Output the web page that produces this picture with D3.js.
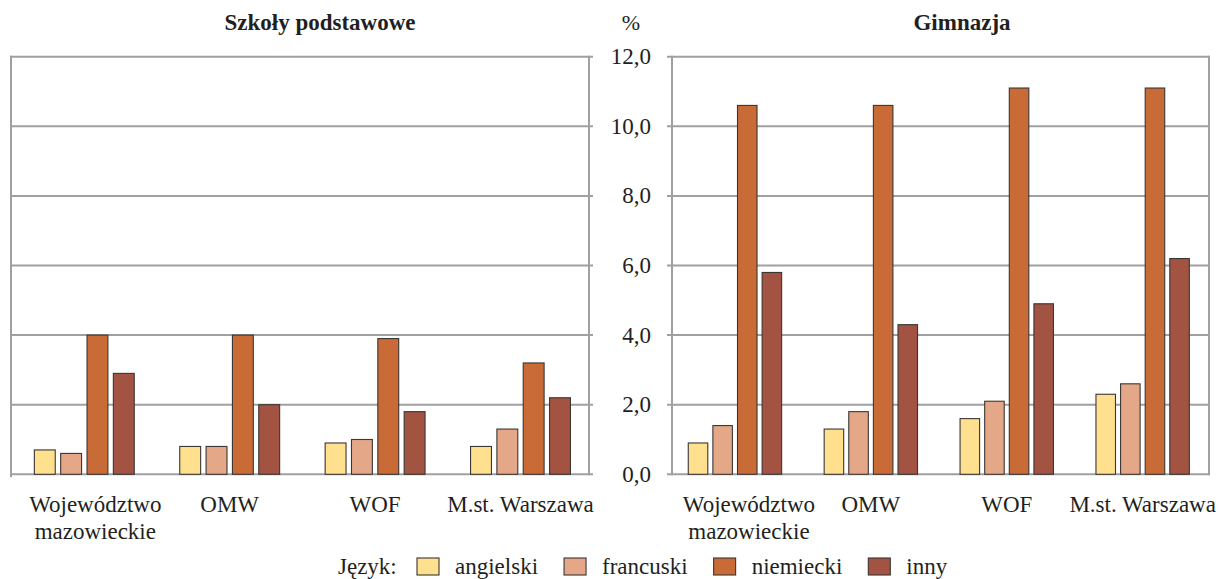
<!DOCTYPE html>
<html>
<head>
<meta charset="utf-8">
<script src="https://cdn.jsdelivr.net/npm/d3@7"></script>
<style>
  html, body { margin: 0; padding: 0; background: #fff; }
  svg { display: block; }
  text { font-family: "Liberation Serif", "Times New Roman", serif; fill: #231f20; }
</style>
</head>
<body>
<svg id="chart" width="1220" height="579"></svg>
<script>
// ---- data ----
const categories = ["Województwo mazowieckie", "OMW", "WOF", "M.st. Warszawa"];
const languages = ["angielski", "francuski", "niemiecki", "inny"];
const languageColors = ["#FFE08F", "#E4A888", "#C86B37", "#A25341"];

// Szkoły podstawowe (%)
const spAngielski = [0.7, 0.8, 0.9, 0.8];
const spFrancuski = [0.6, 0.8, 1.0, 1.3];
const spNiemiecki = [4.0, 4.0, 3.9, 3.2];
const spInny      = [2.9, 2.0, 1.8, 2.2];

// Gimnazja (%)
const gAngielski = [0.9, 1.3, 1.6, 2.3];
const gFrancuski = [1.4, 1.8, 2.1, 2.6];
const gNiemiecki = [10.6, 10.6, 11.1, 11.1];
const gInny      = [5.8, 4.3, 4.9, 6.2];

const yTicks = [0, 2, 4, 6, 8, 10, 12];
const yTickLabels = ["0,0", "2,0", "4,0", "6,0", "8,0", "10,0", "12,0"];

// ---- drawing ----
const svg = d3.select("#chart");
const gridColor = "#a0a0a2";
const plotTop = 56.7, plotBottom = 474.3;
const y = d3.scaleLinear().domain([0, 12]).range([plotBottom, plotTop]);

function labelLines(c) {
  return c === "Województwo mazowieckie" ? c.split(" ") : [c];
}

function drawPanel(opts) {
  const g = svg.append("g");
  const series = [opts.ang, opts.fr, opts.niem, opts.inny];

  g.selectAll("line.grid").data(yTicks).join("line")
    .attr("x1", opts.gridX0).attr("x2", opts.gridX1)
    .attr("y1", d => y(d)).attr("y2", d => y(d))
    .attr("stroke", gridColor).attr("stroke-width", 2);

  g.append("line").attr("x1", opts.leftX).attr("x2", opts.leftX)
    .attr("y1", plotTop - 1).attr("y2", opts.leftBottom)
    .attr("stroke", gridColor).attr("stroke-width", 2);
  g.append("line").attr("x1", opts.rightX).attr("x2", opts.rightX)
    .attr("y1", plotTop - 1).attr("y2", plotBottom + 1)
    .attr("stroke", gridColor).attr("stroke-width", 2);

  const x0 = d3.scaleBand().domain(categories).range(opts.bandRange)
    .paddingInner(0.313).paddingOuter(0.1565);
  const x1 = d3.scaleBand().domain(languages).range([0, x0.bandwidth()])
    .paddingInner(0.207).paddingOuter(0);

  const rows = [];
  categories.forEach((c, ci) => {
    languages.forEach((l, li) => rows.push({ c, l, li, v: series[li][ci] }));
  });

  g.selectAll("rect.bar").data(rows).join("rect")
    .attr("x", d => x0(d.c) + x1(d.l))
    .attr("y", d => y(d.v))
    .attr("width", x1.bandwidth())
    .attr("height", d => y(0) - y(d.v))
    .attr("fill", d => languageColors[d.li])
    .attr("stroke", "#3a3634").attr("stroke-width", 1.1);

  categories.forEach((c) => {
    const lines = labelLines(c);
    const cx = x0(c) + x0.bandwidth() / 2 + (lines.length > 1 ? opts.wrapShift : 0);
    const t = g.append("text").attr("text-anchor", "middle").attr("font-size", 23);
    lines.forEach((ln, i) => {
      t.append("tspan").attr("x", cx).attr("y", 512 + i * 26.5).text(ln);
    });
  });

  g.append("text").attr("x", opts.titleX).attr("y", 30)
    .attr("text-anchor", "middle").attr("font-size", 23)
    .attr("font-weight", "bold").text(opts.title);
}

drawPanel({
  title: "Szkoły podstawowe", titleX: 320,
  ang: spAngielski, fr: spFrancuski, niem: spNiemiecki, inny: spInny,
  gridX0: 10, gridX1: 593, leftX: 11, leftBottom: plotBottom + 3, rightX: 589,
  bandRange: [11.6, 593.2], wrapShift: 11
});

drawPanel({
  title: "Gimnazja", titleX: 962,
  ang: gAngielski, fr: gFrancuski, niem: gNiemiecki, inny: gInny,
  gridX0: 667, gridX1: 1210, leftX: 672, leftBottom: plotBottom + 1, rightX: 1209,
  bandRange: [667, 1210.6], wrapShift: 14
});

const axis = d3.axisLeft(y).tickValues(yTicks)
  .tickFormat((d, i) => yTickLabels[i]).tickSize(0).tickPadding(16);
const ag = svg.append("g").attr("transform", "translate(667,0)").call(axis);
ag.select(".domain").remove();
ag.selectAll("text").attr("font-size", 23)
  .attr("font-family", "Liberation Serif, Times New Roman, serif")
  .attr("fill", "#231f20").attr("dy", "0.3em");

svg.append("text").attr("x", 631).attr("y", 30).attr("text-anchor", "middle")
  .attr("font-size", 22).text("%");

const lg = svg.append("g");
lg.append("text").attr("x", 338).attr("y", 574).attr("font-size", 23).text("Język:");
let lx = 417;
languages.forEach((l, i) => {
  lg.append("rect").attr("x", lx).attr("y", 558).attr("width", 22).attr("height", 17)
    .attr("fill", languageColors[i]).attr("stroke", "#3a3634").attr("stroke-width", 1.1);
  const t = lg.append("text").attr("x", lx + 38).attr("y", 574)
    .attr("font-size", 23).text(l);
  lx = lx + 38 + t.node().getComputedTextLength() + 26;
});
</script>
</body>
</html>
